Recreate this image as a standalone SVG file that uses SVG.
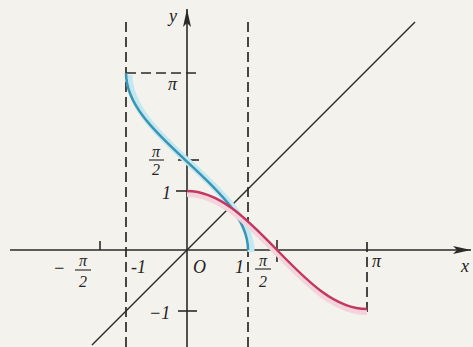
<svg xmlns="http://www.w3.org/2000/svg" width="473" height="347" viewBox="0 0 473 347">
<defs>
<style>
.ax{stroke:#2a2a2a;stroke-width:1.6;fill:none}
.dash{stroke:#2a2a2a;stroke-width:1.7;fill:none;stroke-dasharray:10 5}
.lbl{font-family:"Liberation Serif","DejaVu Serif",serif;font-style:italic;font-size:18px;fill:#222}
.frac{font-family:"Liberation Serif","DejaVu Serif",serif;font-style:italic;font-size:16px;fill:#222;text-anchor:middle}
</style>
<marker id="arr" viewBox="0 0 18 8" refX="18" refY="4" markerWidth="18" markerHeight="8" markerUnits="userSpaceOnUse" orient="auto">
<path d="M0,0 L18,4 L0,8 L4,4 Z" fill="#2a2a2a"/>
</marker>
</defs>
<rect width="473" height="347" fill="#f3f2ec"/>
<g id="connectors">
<line class="ax" x1="10" y1="250" x2="471" y2="250" marker-end="url(#arr)"/>
<line class="ax" x1="187" y1="347" x2="187" y2="9" marker-end="url(#arr)"/>
<line class="dash" x1="126" y1="22" x2="126" y2="347"/>
<line class="dash" x1="248" y1="22" x2="248" y2="347"/>
<line class="dash" x1="126" y1="73" x2="196" y2="73"/>
<line class="dash" x1="367" y1="242" x2="367" y2="312"/>
<line class="ax" x1="100" y1="241" x2="100" y2="250"/>
<line class="ax" x1="277" y1="240" x2="277" y2="262"/>
<line class="ax" x1="178" y1="160" x2="199" y2="160"/>
<line class="ax" x1="176" y1="191" x2="187" y2="191"/>
<line class="ax" x1="178" y1="311" x2="197" y2="311"/>
<line stroke="#2a2a2a" stroke-width="1.5" x1="92" y1="345" x2="415" y2="22"/>
</g>
<g id="arccos">
<path d="M248,250 C248,235.26 241.39,220.54 230.1,205.8 C218.81,191.06 202.97,176.34 187,161.6 C171.03,146.86 155.19,132.04 143.9,117.3 C132.61,102.56 126,87.74 126,73" fill="none" stroke="#c4e8f1" stroke-width="7" transform="translate(3,2)"/>
<path d="M248,250 C248,235.26 241.39,220.54 230.1,205.8 C218.81,191.06 202.97,176.34 187,161.6 C171.03,146.86 155.19,132.04 143.9,117.3 C132.61,102.56 126,87.74 126,73" fill="none" stroke="#3a94b4" stroke-width="2.5"/>
</g>
<g id="cos">
<path d="M187,191 C202,191 217,197.4 232,208.3 C247,219.2 262,234.55 277,250 C292,265.45 307,280.8 322,291.7 C337,302.6 352,309 367,309" fill="none" stroke="#f4d3dc" stroke-width="6" transform="translate(0,3)"/>
<path d="M187,191 C202,191 217,197.4 232,208.3 C247,219.2 262,234.55 277,250 C292,265.45 307,280.8 322,291.7 C337,302.6 352,309 367,309" fill="none" stroke="#c23860" stroke-width="2.5"/>
</g>
<g id="labels">
<text class="lbl" x="169" y="22" font-size="20">y</text>
<text class="lbl" x="461" y="272" font-size="20">x</text>
<text class="lbl" x="168" y="90">π</text>
<text class="frac" x="156" y="157">π</text>
<line x1="149" y1="160" x2="164" y2="160" stroke="#222" stroke-width="1.1"/>
<text class="frac" x="156" y="175">2</text>
<text class="lbl" x="162" y="199">1</text>
<text class="lbl" x="149" y="319">−1</text>
<text class="lbl" x="53" y="274">−</text>
<text class="frac" x="83" y="266">π</text>
<line x1="75" y1="270" x2="91" y2="270" stroke="#222" stroke-width="1.1"/>
<text class="frac" x="83" y="287">2</text>
<text class="lbl" x="131" y="273">-1</text>
<text class="lbl" x="193" y="273">O</text>
<text class="lbl" x="235" y="273">1</text>
<text class="frac" x="263" y="266">π</text>
<line x1="255" y1="269" x2="271" y2="269" stroke="#222" stroke-width="1.1"/>
<text class="frac" x="263" y="287">2</text>
<text class="lbl" x="372" y="267">π</text>
</g>
</svg>
